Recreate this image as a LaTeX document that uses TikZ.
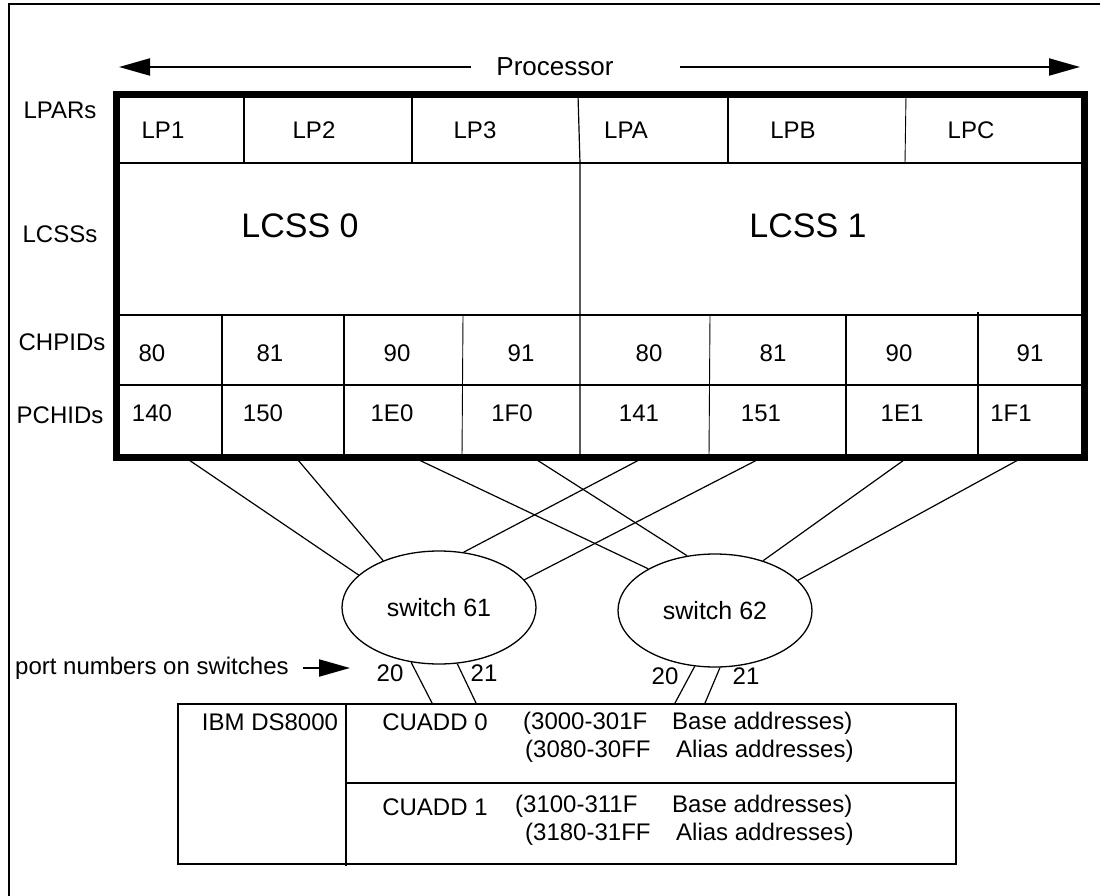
\documentclass[tikz,border=0pt]{standalone}
\usepackage{fontspec}
\setmainfont{Liberation Sans}
\usetikzlibrary{shapes,arrows.meta,positioning}

\tikzset{
  lbl/.style={inner sep=0pt, font=\fontsize{24}{28}\selectfont},
  biglbl/.style={inner sep=0pt, font=\fontsize{34}{40}\selectfont},
  gridline/.style={line width=1.2pt},
  switchnode/.style={ellipse, draw, line width=1.3pt, minimum width=194pt,
    minimum height=113pt, inner sep=0pt, font=\fontsize{25}{29}\selectfont},
  bigtip/.style={line width=2pt, -{Triangle[length=31pt,width=17pt]}},
}

\begin{document}
\begin{tikzpicture}[x=1pt,y=-1pt]
    \useasboundingbox (0,0) rectangle (1100,896);
    \draw[line width=1.5pt] (9,896) -- (9,4) -- (1100,4);
    %%
    \node[lbl, font=\fontsize{26}{30}\selectfont] (proc) at (555,67) {Processor};
    \coordinate (procL) at (119,67);
    \coordinate (procR) at (1080,67);
    \draw[bigtip] ([xshift=-25pt]proc.west) -- (procL);
    \draw[bigtip] ([xshift=66pt]proc.east) -- (procR);
    %%
    \draw[gridline] (116,163) -- (1084,163);
    \draw[gridline] (116,315) -- (1084,315);
    \draw[gridline] (116,385) -- (1084,385);
    \draw[gridline] (244,95) -- (244,163);
    \draw[gridline] (412,95) -- (412,163);
    \draw[gridline] (578,95) -- (580,163) -- (580,457);
    \draw[gridline] (728,95) -- (728,163);
    \draw[line width=0.9pt] (906,95) -- (905,163);
    \draw[gridline] (222,315) -- (222,457);
    \draw[gridline] (344,315) -- (344,457);
    \draw[line width=0.9pt] (463,315) -- (462,457);
    \draw[line width=0.9pt] (710,315) -- (709,457);
    \draw[gridline] (846,315) -- (846,457);
    \draw[gridline] (978,312) -- (978,457);
    \draw[line width=7pt] (116,95) rectangle (1084,457);
    %%
    \node[lbl] (lparlbl) at (60,110) {LPARs};
    \node[lbl] (lcsslbl) at (60,234) {LCSSs};
    \node[lbl] (chplbl) at (62,342) {CHPIDs};
    \node[lbl] (pchlbl) at (60,415) {PCHIDs};
    %%
    \node[lbl] (lp1) at (163,130) {LP1};
    \node[lbl] (lp2) at (314,130) {LP2};
    \node[lbl] (lp3) at (475,130) {LP3};
    \node[lbl] (lpa) at (626,130) {LPA};
    \node[lbl] (lpb) at (793,130) {LPB};
    \node[lbl] (lpc) at (971,130) {LPC};
    \node[biglbl] (lcss0) at (300,226) {LCSS 0};
    \node[biglbl] (lcss1) at (808,226) {LCSS 1};
    %%
    \node[lbl] (ch1) at (152,353) {80};
    \node[lbl] (ch2) at (270,353) {81};
    \node[lbl] (ch3) at (397,353) {90};
    \node[lbl] (ch4) at (521,353) {91};
    \node[lbl] (ch5) at (649,353) {80};
    \node[lbl] (ch6) at (773,353) {81};
    \node[lbl] (ch7) at (899,353) {90};
    \node[lbl] (ch8) at (1030,353) {91};
    \node[lbl] (pc1) at (152,413) {140};
    \node[lbl] (pc2) at (263,413) {150};
    \node[lbl] (pc3) at (392,413) {1E0};
    \node[lbl] (pc4) at (512,413) {1F0};
    \node[lbl] (pc5) at (639,413) {141};
    \node[lbl] (pc6) at (761,413) {151};
    \node[lbl] (pc7) at (902,413) {1E1};
    \node[lbl] (pc8) at (1011,413) {1F1};
    %%
    \node[switchnode] (sw61) at (439,607.5) {switch 61};
    \node[switchnode] (sw62) at (715,610.5) {switch 62};
    \coordinate (c1) at (189,460);
    \coordinate (c2) at (298,460);
    \coordinate (c3) at (419,460);
    \coordinate (c4) at (537,460);
    \coordinate (c5) at (639,460);
    \coordinate (c6) at (757,460);
    \coordinate (c7) at (904,460);
    \coordinate (c8) at (1018,460);
    \draw[gridline] (c1) -- (sw61.158);
    \draw[gridline] (c2) -- (sw61.140);
    \draw[gridline] (c3) -- (sw62.148);
    \draw[gridline] (c4) -- (sw62.117);
    \draw[gridline] (c5) -- (sw61.66);
    \draw[gridline] (c6) -- (sw61.18);
    \draw[gridline] (c7) -- (sw62.46);
    \draw[gridline] (c8) -- (sw62.20);
    %%
    \node[lbl, anchor=west] (portnote) at (15,668) {port numbers on switches};
    \coordinate (portarr) at (350,668);
    \draw[line width=2pt, -{Triangle[length=31pt,width=17pt]}] ([xshift=14pt]portnote.east) -- (portarr);
    \node[lbl] (port1) at (390,673) {20};
    \node[lbl] (port2) at (484,673) {21};
    \node[lbl] (port3) at (665,676) {20};
    \node[lbl] (port4) at (746,676) {21};
    %%
    \node[draw, line width=2.2pt, minimum width=778pt, minimum height=160pt,
      inner sep=0pt, anchor=north west] (ds) at (177,703) {};
    \draw[line width=2pt] (346,703) -- (346,866);
    \draw[gridline] (346,783) -- (955,783);
    \coordinate (p1) at (432,703);
    \coordinate (p2) at (476,703);
    \coordinate (p3) at (675,703);
    \coordinate (p4) at (705,703);
    \draw[gridline] (sw61.-117) -- (p1);
    \draw[gridline] (sw61.-72) -- (p2);
    \draw[gridline] (sw62.-110) -- (p3);
    \draw[gridline] (sw62.-85) -- (p4);
    %%
    \node[lbl] (dsname) at (270,722) {IBM DS8000};
    \node[lbl] (cu0) at (435,722) {CUADD 0};
    \node[lbl] (cu1) at (435,807) {CUADD 1};
    \node[lbl, anchor=west] (r1) at (523,723) {(3000-301F};
    \node[lbl, anchor=west] (t1) at (672,723) {Base addresses)};
    \node[lbl, anchor=west] (r2) at (525,751) {(3080-30FF};
    \node[lbl, anchor=west] (t2) at (676,751) {Alias addresses)};
    \node[lbl, anchor=west] (r3) at (515,806) {(3100-311F};
    \node[lbl, anchor=west] (t3) at (672,806) {Base addresses)};
    \node[lbl, anchor=west] (r4) at (525,834) {(3180-31FF};
    \node[lbl, anchor=west] (t4) at (676,834) {Alias addresses)};
\end{tikzpicture}
\end{document}
